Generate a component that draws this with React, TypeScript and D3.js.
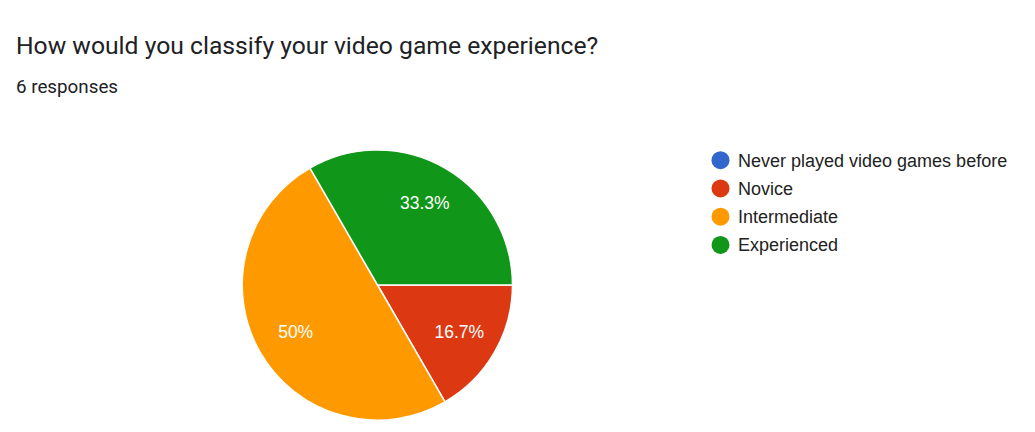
import React from 'react';
import { useRef, useEffect } from 'react';
import * as d3 from 'd3';

const categories = ['Never played video games before', 'Novice', 'Intermediate', 'Experienced'];
const counts = [0, 1, 3, 2];
const colors = ['#3366cc', '#dc3912', '#ff9900', '#109618'];
const title = 'How would you classify your video game experience?';
const subtitle = '6 responses';

export default function App() {
  const svgRef = useRef<SVGSVGElement>(null);

  useEffect(() => {
    const w = 1035;
    const h = 432;
    const cx = 377.5;
    const cy = 285;
    const radius = 135;

    const svg = d3
      .select(svgRef.current)
      .attr('width', w)
      .attr('height', h)
      .style('position', 'absolute')
      .style('left', 0)
      .style('top', 0)
      .style('background-color', 'white');
    svg.selectAll('*').remove();

    // header text
    svg
      .append('text')
      .attr('x', 16)
      .attr('y', 54)
      .style('font-family', 'Roboto, sans-serif')
      .style('font-size', '24.7px')
      .attr('fill', '#202124')
      .text(title);
    svg
      .append('text')
      .attr('x', 16)
      .attr('y', 93)
      .style('font-family', 'Roboto, sans-serif')
      .style('font-size', '18.8px')
      .attr('fill', '#202124')
      .text(subtitle);

    // pie
    const total = d3.sum(counts);
    const pieGen = d3
      .pie<number>()
      .startAngle(0.5 * Math.PI)
      .endAngle(2.5 * Math.PI)
      .sort(null);
    const arcs = pieGen(counts);
    const arcGen = d3.arc<d3.PieArcDatum<number>>().innerRadius(0).outerRadius(radius);
    const labelArc = d3
      .arc<d3.PieArcDatum<number>>()
      .innerRadius(radius * 0.7)
      .outerRadius(radius * 0.7);

    const g = svg.append('g').attr('transform', `translate(${cx}, ${cy})`);
    g.selectAll('path')
      .data(arcs.filter((a) => a.value > 0))
      .join('path')
      .attr('d', arcGen)
      .attr('fill', (a) => colors[a.index])
      .attr('stroke', 'white')
      .attr('stroke-width', 1.5);

    const fmt = (v: number) => {
      const p = Math.round((v / total) * 1000) / 10;
      return `${p}%`;
    };
    g.selectAll('text.lbl')
      .data(arcs.filter((a) => a.value > 0))
      .join('text')
      .attr('class', 'lbl')
      .attr('transform', (a) => `translate(${labelArc.centroid(a)})`)
      .attr('text-anchor', 'middle')
      .attr('dy', '0.35em')
      .style('font-family', 'Arial, "Liberation Sans", sans-serif')
      .style('font-size', '17.5px')
      .attr('fill', 'white')
      .text((a) => fmt(a.value));

    // legend
    const y = d3.scaleBand().domain(categories).range([146, 259]);
    const leg = svg
      .append('g')
      .selectAll('g')
      .data(categories)
      .join('g')
      .attr('transform', (d) => `translate(720.5, ${(y(d) ?? 0) + y.bandwidth() / 2})`);
    leg
      .append('circle')
      .attr('r', 9)
      .attr('fill', (d, i) => colors[i]);
    leg
      .append('text')
      .attr('x', 17.5)
      .attr('dy', '0.36em')
      .style('font-family', 'Arial, "Liberation Sans", sans-serif')
      .style('font-size', '18px')
      .attr('fill', '#222222')
      .text((d) => d);
  }, []);

  return (
    <div className="pie-chart">
      <svg ref={svgRef}></svg>
    </div>
  );
}
